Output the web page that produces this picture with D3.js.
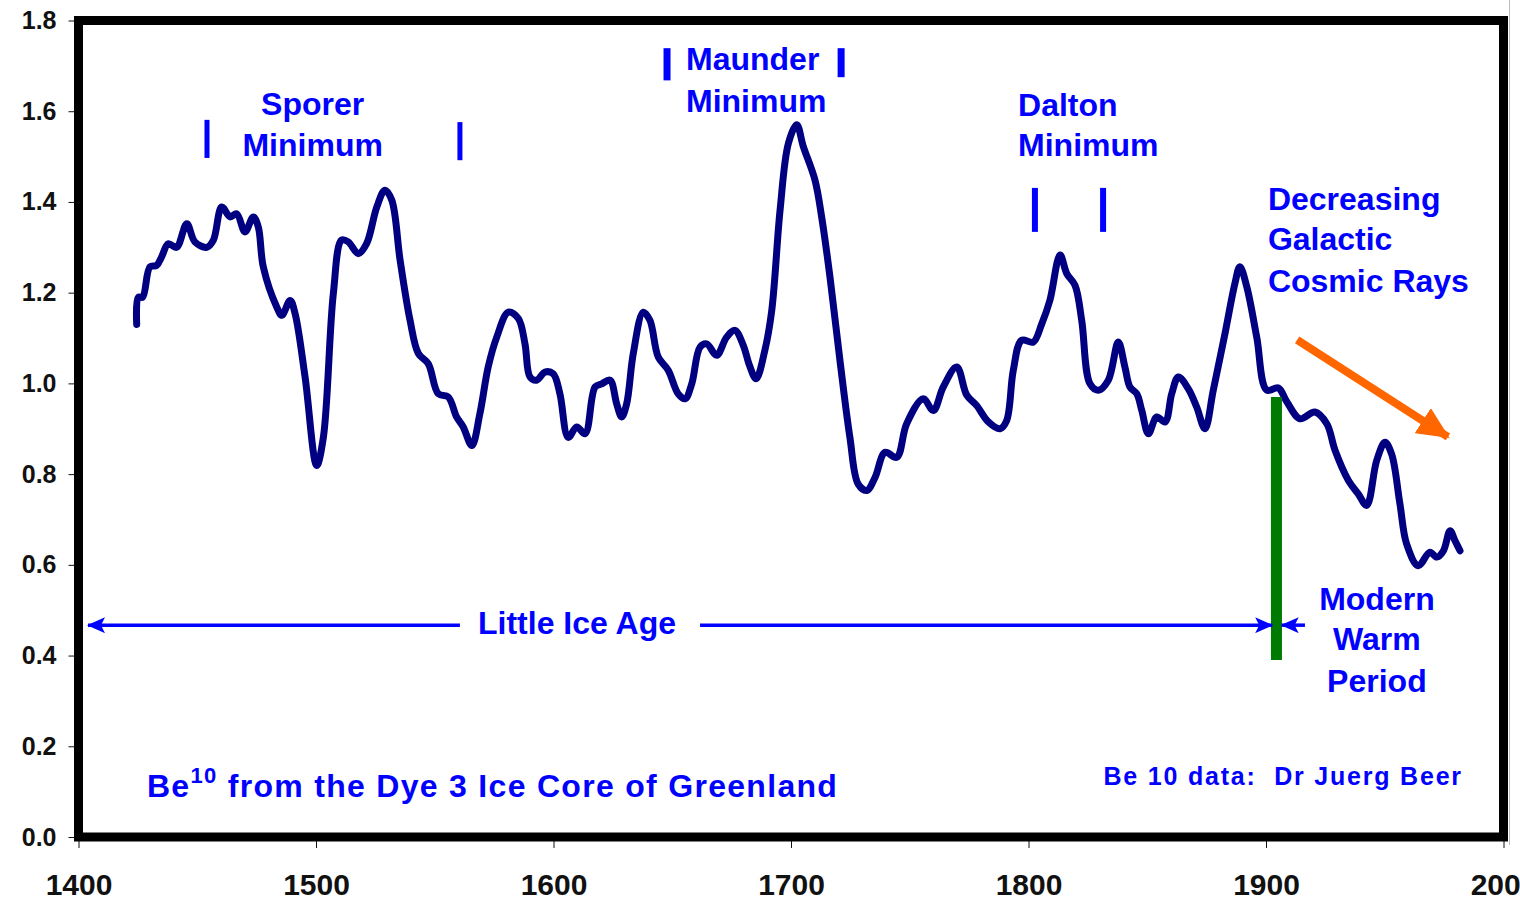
<!DOCTYPE html>
<html>
<head>
<meta charset="utf-8">
<script src="https://cdn.jsdelivr.net/npm/d3@7/dist/d3.min.js"></script>
<style>
    body { margin: 0; background: #fff; }
    text { font-family: "Liberation Sans", Arial, sans-serif; font-weight: bold; }
</style>
</head>
<body>
<svg id="chart" width="1520" height="901"></svg>
<script>
"use strict";

/** Be10 series: year of each point */
const years = [
    1424.5, 1425.2, 1427, 1430.1, 1432.9, 1435, 1437.8, 1441.3, 1445.6, 1449,
    1454, 1456.8, 1460.3, 1463.8, 1466.6, 1470.1, 1473.6, 1475.7, 1477.8, 1483.5,
    1485.6, 1489.1, 1491.2, 1495.4, 1500.3, 1503.1, 1507.3, 1510.8, 1513.6, 1517.8,
    1521.3, 1525.6, 1529, 1531.9, 1535.4, 1539.6, 1543.1, 1547.3, 1551.5, 1555.7,
    1559.2, 1562, 1565.6, 1569, 1572.5, 1576.1, 1581, 1585.2, 1588, 1590.1,
    1592.9, 1596.4, 1599.9, 1602.7, 1606.2, 1609.8, 1613.3, 1617.5, 1620.3, 1623.8,
    1626.6, 1628.7, 1630.8, 1633.6, 1637.8, 1640.6, 1644.1, 1648.3, 1652.5, 1655.4,
    1658.2, 1661.7, 1664.5, 1668.7, 1672.9, 1676.4, 1679.9, 1682.5, 1685.3, 1689,
    1691.9, 1695.4, 1698.9, 1702.4, 1705.2, 1710.1, 1712.9, 1716.4, 1720.6, 1724.8,
    1728.3, 1731.9, 1735.4, 1739.6, 1744.5, 1748.7, 1755.7, 1759.9, 1764.1, 1769.8,
    1774, 1778.2, 1783.1, 1788, 1790.8, 1793.6, 1797.1, 1802, 1805.5, 1809,
    1813.3, 1816.1, 1819.6, 1822.4, 1825.9, 1829.4, 1833.6, 1837.8, 1840.6, 1842.7,
    1845.6, 1847.7, 1850.5, 1854, 1857.5, 1860.3, 1863.1, 1867.3, 1870.8, 1874.3,
    1877.8, 1882.7, 1886.9, 1889, 1891.9, 1896.1, 1900.3, 1905.2, 1908.7, 1914.3,
    1920.6, 1925.6, 1929.1, 1934.7, 1938.9, 1942.4, 1946.6, 1950.1, 1952.9, 1956.4,
    1959.2, 1964.1, 1969, 1971.9, 1974.7, 1977.5, 1979.6, 1981.7
];
/** Be10 series: relative concentration for each year */
const be10 = [
    1.13, 1.19, 1.19, 1.257, 1.26, 1.279, 1.308, 1.30, 1.352, 1.312,
    1.30, 1.316, 1.389, 1.367, 1.374, 1.334, 1.367, 1.345, 1.257, 1.168,
    1.15, 1.183, 1.154, 1.014, 0.819, 0.881, 1.198, 1.316, 1.312, 1.286,
    1.308, 1.389, 1.426, 1.404, 1.272, 1.139, 1.066, 1.043, 0.977, 0.97,
    0.926, 0.904, 0.863, 0.933, 1.036, 1.102, 1.157, 1.143, 1.087, 1.014,
    1.007, 1.025, 1.021, 0.977, 0.881, 0.904, 0.889, 0.992, 0.999, 1.007,
    0.955, 0.926, 0.955, 1.066, 1.157, 1.139, 1.058, 1.029, 0.977, 0.966,
    0.999, 1.08, 1.087, 1.062, 1.102, 1.117, 1.084, 1.04, 1.01, 1.073,
    1.161, 1.382, 1.529, 1.57, 1.522, 1.448, 1.367, 1.235, 1.051, 0.881,
    0.778, 0.764, 0.793, 0.848, 0.837, 0.911, 0.966, 0.94, 0.992, 1.036,
    0.974, 0.951, 0.915, 0.9, 0.918, 1.029, 1.095, 1.091, 1.13, 1.183,
    1.283, 1.242, 1.216, 1.139, 0.999, 0.985, 1.007, 1.091, 1.036, 0.992,
    0.977, 0.94, 0.889, 0.926, 0.915, 0.977, 1.014, 0.988, 0.948, 0.9,
    0.985, 1.109, 1.22, 1.257, 1.213, 1.102, 0.985, 0.99, 0.96, 0.922,
    0.937, 0.911, 0.852, 0.786, 0.756, 0.731, 0.83, 0.87, 0.844, 0.734,
    0.646, 0.598, 0.628, 0.617, 0.631, 0.675, 0.653, 0.631
];

/** axis ticks */
const xTicks = [1400, 1500, 1600, 1700, 1800, 1900, 2000];
const yTicks = [0, 0.2, 0.4, 0.6, 0.8, 1.0, 1.2, 1.4, 1.6, 1.8];

/** small bars marking the solar minima: [year, from, to] */
const minimaBars = [
    [1454.1, 1.497, 1.581], [1560.6, 1.492, 1.576],
    [1647.8, 1.668, 1.739], [1721.1, 1.675, 1.739],
    [1802.7, 1.334, 1.431], [1831.4, 1.334, 1.431]
];

/** text blocks: lines, anchor year, baseline value of each line, alignment */
const labels = [
    { lines: ["Sporer", "Minimum"], year: 1498.6, values: [1.592, 1.502], anchor: "middle" },
    { lines: ["Maunder", "Minimum"], year: 1655.8, values: [1.691, 1.598], anchor: "start" },
    { lines: ["Dalton", "Minimum"], year: 1795.6, values: [1.589, 1.501], anchor: "start" },
    { lines: ["Decreasing", "Galactic", "Cosmic Rays"], year: 1900.8, values: [1.382, 1.294, 1.202], anchor: "start" },
    { lines: ["Modern", "Warm", "Period"], year: 1946.7, values: [0.50, 0.412, 0.32], anchor: "middle" },
    { lines: ["Little Ice Age"], year: 1609.9, values: [0.448], anchor: "middle" }
];

/** Little Ice Age arrows: [from year, to year] at one level */
const iceAgeLevel = 0.467;
const iceAgeArrows = [[1560.6, 1404], [1661.7, 1902.6], [1916.4, 1906.6]];
/** start of the Modern Warm Period */
const warmStart = { year: 1904.4, from: 0.39, to: 0.97 };
/** cosmic ray trend arrow */
const trendArrow = [[1913.1, 1.096], [1976.6, 0.882]];

const width = 1520, height = 901;
const margin = { top: 20.5, right: 16.5, bottom: 64, left: 78.5 };

const svg = d3.select("#chart");
const x = d3.scaleLinear().domain([1400, 2000]).range([margin.left, width - margin.right]);
const y = d3.scaleLinear().domain([0, 1.8]).range([height - margin.bottom, margin.top]);

const blue = "#0000ff";

// arrow heads
const defs = svg.append("defs");
defs.append("marker")
    .attr("id", "blueHead")
    .attr("markerUnits", "userSpaceOnUse")
    .attr("viewBox", "0 0 18 16")
    .attr("refX", 17).attr("refY", 8)
    .attr("markerWidth", 18).attr("markerHeight", 16)
    .attr("orient", "auto")
    .append("path")
    .attr("d", "M0,0 L18,8 L0,16 L4,8 Z")
    .style("fill", blue);
defs.append("marker")
    .attr("id", "orangeHead")
    .attr("markerUnits", "userSpaceOnUse")
    .attr("viewBox", "0 0 32 30")
    .attr("refX", 30).attr("refY", 15)
    .attr("markerWidth", 32).attr("markerHeight", 30)
    .attr("orient", "auto")
    .append("path")
    .attr("d", "M0,0 L32,15 L0,30 Z")
    .style("fill", "#ff6600");

// y axis (ticks sit under the frame, only the outer part shows)
const yAxis = svg.append("g")
    .attr("transform", "translate(" + x(1400) + ",0)")
    .call(d3.axisLeft(y).tickValues(yTicks).tickSize(10).tickPadding(12).tickFormat(d3.format(".1f")));
yAxis.select(".domain").remove();
yAxis.selectAll("text").style("font-size", "25px").style("fill", "#111");
yAxis.selectAll("line").style("stroke", "#111");

// x axis
const xAxis = svg.append("g")
    .attr("transform", "translate(0," + y(0) + ")")
    .call(d3.axisBottom(x).tickValues(xTicks).tickSize(11).tickPadding(26).tickFormat(d3.format("d")));
xAxis.select(".domain").remove();
xAxis.selectAll("text").style("font-size", "30px").style("fill", "#111");
xAxis.selectAll("line").style("stroke", "#111");

// thin grey edge on the right of the picture
svg.append("line")
    .attr("x1", 1509.5).attr("x2", 1509.5)
    .attr("y1", 0).attr("y2", y(0) + 8)
    .style("stroke", "#bbb").style("stroke-width", 1);

// plot frame
svg.append("rect")
    .attr("x", x(1400)).attr("y", y(1.8))
    .attr("width", x(2000) - x(1400)).attr("height", y(0) - y(1.8))
    .style("fill", "none").style("stroke", "#000").style("stroke-width", 9);

// Be10 curve
const series = years.map((yr, i) => [yr, be10[i]]);
svg.append("path")
    .datum(series)
    .attr("d", d3.line().x(d => x(d[0])).y(d => y(d[1])).curve(d3.curveCatmullRom.alpha(0.5)))
    .style("fill", "none")
    .style("stroke", "#000080")
    .style("stroke-width", 7)
    .style("stroke-linejoin", "round")
    .style("stroke-linecap", "round");

// minima bars
svg.selectAll(".minBar").data(minimaBars).enter()
    .append("line")
    .attr("class", "minBar")
    .attr("x1", d => x(d[0])).attr("x2", d => x(d[0]))
    .attr("y1", d => y(d[1])).attr("y2", d => y(d[2]))
    .style("stroke", blue)
    .style("stroke-width", (d, i) => i < 2 ? 5 : (i < 4 ? 7 : 6));

// Modern Warm Period marker
svg.append("line")
    .attr("x1", x(warmStart.year)).attr("x2", x(warmStart.year))
    .attr("y1", y(warmStart.from)).attr("y2", y(warmStart.to))
    .style("stroke", "#007a00").style("stroke-width", 11);

// Little Ice Age arrows
svg.selectAll(".iceArrow").data(iceAgeArrows).enter()
    .append("line")
    .attr("class", "iceArrow")
    .attr("x1", d => x(d[0])).attr("x2", d => x(d[1]))
    .attr("y1", y(iceAgeLevel)).attr("y2", y(iceAgeLevel))
    .style("stroke", blue).style("stroke-width", 3.5)
    .attr("marker-end", "url(#blueHead)");

// trend arrow
svg.append("line")
    .attr("x1", x(trendArrow[0][0])).attr("y1", y(trendArrow[0][1]))
    .attr("x2", x(trendArrow[1][0])).attr("y2", y(trendArrow[1][1]))
    .style("stroke", "#ff6600").style("stroke-width", 8)
    .attr("marker-end", "url(#orangeHead)");

// text blocks
labels.forEach(block => {
    block.lines.forEach((line, i) => {
        svg.append("text")
            .attr("x", x(block.year))
            .attr("y", y(block.values[i]))
            .attr("text-anchor", block.anchor)
            .style("font-size", "32px")
            .style("fill", blue)
            .text(line);
    });
});

// source notes
const note = svg.append("text")
    .attr("x", x(1428.8)).attr("y", y(0.088))
    .style("font-size", "32px").style("letter-spacing", "1.3px").style("fill", blue);
note.append("tspan").text("Be");
note.append("tspan").attr("dy", -14).style("font-size", "22px").text("10");
note.append("tspan").attr("dy", 14).text(" from the Dye 3 Ice Core of Greenland");

svg.append("text")
    .attr("x", x(1982.9)).attr("y", y(0.115))
    .attr("text-anchor", "end")
    .style("white-space", "pre")
    .style("font-size", "25px").style("letter-spacing", "1.8px").style("fill", blue)
    .text("Be 10 data:  Dr Juerg Beer");
</script>
</body>
</html>
